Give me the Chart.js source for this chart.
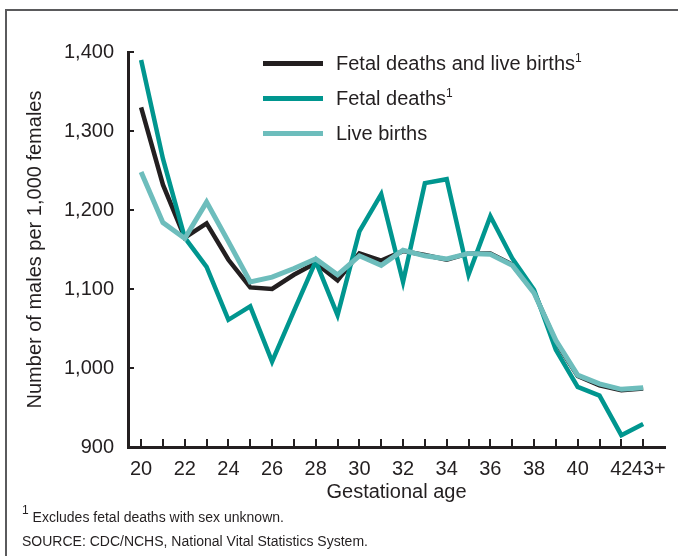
<!DOCTYPE html>
<html lang="en">
<head>
<meta charset="UTF-8">
<title>Sex ratio by gestational age</title>
<script src="https://cdn.jsdelivr.net/npm/chart.js@4.4.1/dist/chart.umd.min.js"></script>
<style>
    body{
        margin: 0;
        padding: 0;
        background: #fff;
        font-family: 'Liberation Sans', Arial, sans-serif;
        color: #231f20;
    }
    .wrap{
        position: relative;
        width: 678px;
        height: 556px;
        overflow: hidden;
    }
    .frame{
        position: absolute;
        left: 5px;
        top: 9px;
        width: 800px;
        height: 700px;
        border-top: 2px solid #5a5a5c;
        border-left: 2px solid #5a5a5c;
    }
    canvas{
        position: absolute;
        left: 0;
        top: 0;
    }
    .legend{
        position: absolute;
        left: 263px;
        top: 46px;
        font-size: 20px;
    }
    .legend .row{
        height: 35px;
        display: flex;
        align-items: center;
    }
    .legend span.key{
        display: inline-block;
        width: 60px;
        height: 5px;
        margin-right: 13px;
    }
    sup{
        font-size: 12px;
        vertical-align: 8px;
        line-height: 0;
    }
    .note{
        position: absolute;
        left: 22px;
        font-size: 14px;
    }
</style>
</head>
<body>
<div class="wrap">
    <div class="frame"></div>
    <canvas id="chart" width="678" height="556"></canvas>
    <div class="legend">
        <div class="row"><span class="key" style="background:#231f20"></span><span>Fetal deaths and live births<sup>1</sup></span></div>
        <div class="row"><span class="key" style="background:#00968f"></span><span>Fetal deaths<sup>1</sup></span></div>
        <div class="row"><span class="key" style="background:#6dbdbc"></span><span>Live births</span></div>
    </div>
    <div class="note" style="top:509px"><sup>1</sup> Excludes fetal deaths with sex unknown.</div>
    <div class="note" style="top:533px">SOURCE: CDC/NCHS, National Vital Statistics System.</div>
</div>
<script>
// gestational age in weeks (43 = 43+)
const gestationalAge = [20,21,22,23,24,25,26,27,28,29,30,31,32,33,34,35,36,37,38,39,40,41,42,43];
const xTickLabels = ['20','','22','','24','','26','','28','','30','','32','','34','','36','','38','','40','','42','  43+'];
const yTicks = [900,1000,1100,1200,1300,1400];

// males per 1,000 females
const combined = [1330,1232,1165,1183,1137,1102,1100,1118,1133,1111,1145,1136,1148,1143,1137,1145,1145,1131,1096,1033,990,978,972,974];
const fetalDeaths = [1390,1265,1165,1128,1061,1078,1008,1072,1135,1067,1173,1220,1109,1234,1239,1118,1192,1139,1099,1023,976,965,915,929];
const liveBirths = [1248,1184,1164,1210,1160,1109,1115,1126,1138,1118,1142,1130,1149,1142,1138,1145,1144,1130,1095,1035,991,980,973,975];

const ink = '#231f20';

function pts(arr){
    return gestationalAge.map((a, i) => ({x: a, y: arr[i]}));
}

// little tick marks drawn inside the plot, like the original
const innerTicks = {
    id: 'innerTicks',
    afterDraw(chart){
        const ctx = chart.ctx;
        const xs = chart.scales.x, ys = chart.scales.y;
        ctx.save();
        ctx.strokeStyle = ink;
        ctx.lineWidth = 2;
        ctx.beginPath();
        gestationalAge.forEach(a => {
            const px = Math.round(xs.getPixelForValue(a));
            ctx.moveTo(px, ys.bottom);
            ctx.lineTo(px, ys.bottom - 8);
        });
        yTicks.forEach(v => {
            const py = Math.round(ys.getPixelForValue(v));
            ctx.moveTo(xs.left, py);
            ctx.lineTo(xs.left + 6, py);
        });
        ctx.stroke();
        ctx.restore();
    }
};

new Chart(document.getElementById('chart'), {
    type: 'line',
    data: {
        datasets: [
            {label: 'Fetal deaths and live births', data: pts(combined), borderColor: ink, borderWidth: 4.5, order: 3},
            {label: 'Fetal deaths', data: pts(fetalDeaths), borderColor: '#00968f', borderWidth: 4.5, order: 2},
            {label: 'Live births', data: pts(liveBirths), borderColor: '#6dbdbc', borderWidth: 5, order: 1}
        ]
    },
    options: {
        responsive: false,
        animation: false,
        events: [],
        elements: {
            point: {radius: 0},
            line: {tension: 0, borderJoinStyle: 'miter', fill: false}
        },
        layout: {padding: {left: 0, top: 52, right: 13, bottom: 50}},
        plugins: {legend: {display: false}, tooltip: {enabled: false}},
        scales: {
            x: {
                type: 'linear',
                min: 19.4,
                max: 44,
                afterBuildTicks: s => { s.ticks = gestationalAge.map(v => ({value: v})); },
                afterFit: s => { s.height = 59; },
                grid: {display: false},
                border: {display: true, color: ink, width: 3},
                ticks: {
                    autoSkip: false,
                    maxRotation: 0,
                    padding: 2,
                    color: ink,
                    font: {family: 'Liberation Sans', size: 20},
                    callback: (v) => xTickLabels[gestationalAge.indexOf(v)]
                },
                title: {
                    display: true,
                    text: 'Gestational age',
                    color: ink,
                    font: {family: 'Liberation Sans', size: 20},
                    padding: {top: 0, bottom: 2}
                }
            },
            y: {
                min: 900,
                max: 1400,
                afterBuildTicks: s => { s.ticks = yTicks.map(v => ({value: v})); },
                afterFit: s => { s.width = 128; },
                grid: {display: false},
                border: {display: true, color: ink, width: 3},
                ticks: {
                    padding: 6,
                    color: ink,
                    font: {family: 'Liberation Sans', size: 20},
                    callback: v => v.toLocaleString('en-US')
                },
                title: {
                    display: true,
                    text: 'Number of males per 1,000 females',
                    color: ink,
                    font: {family: 'Liberation Sans', size: 20},
                    padding: {top: 23}
                }
            }
        }
    },
    plugins: [innerTicks]
});
</script>
</body>
</html>
